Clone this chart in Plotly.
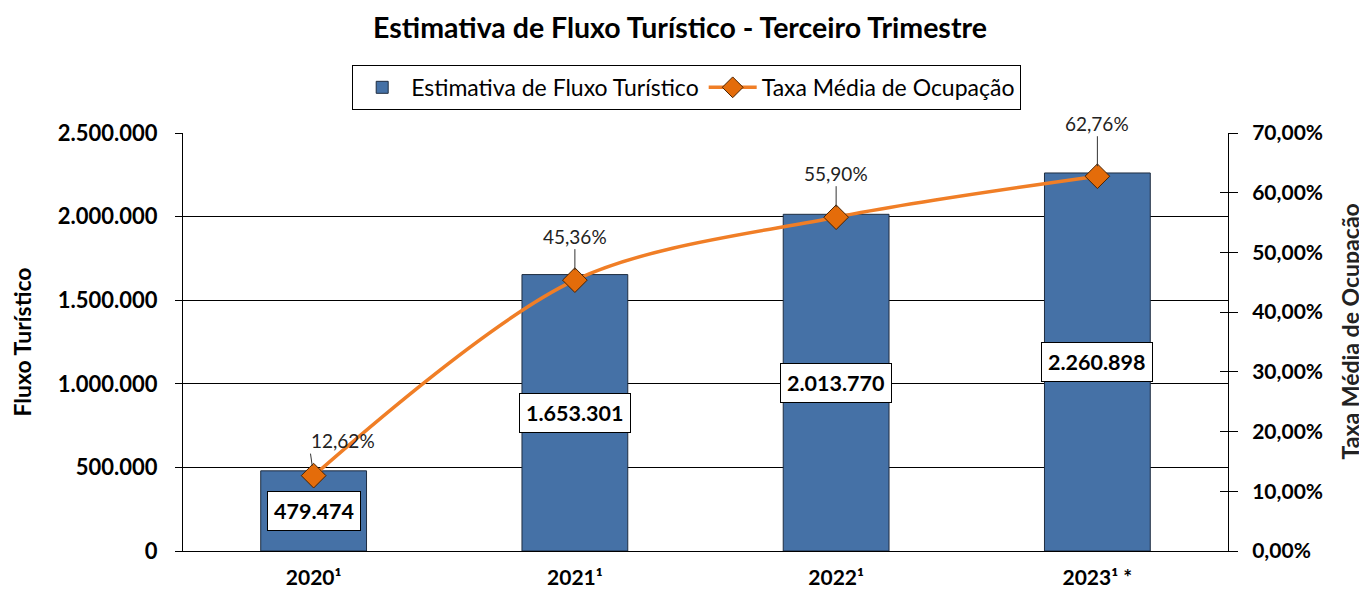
import plotly.graph_objects as go

anos = ['2020¹', '2021¹', '2022¹', '2023¹ *']
fluxo = [479474, 1653301, 2013770, 2260898]
taxa = [12.62, 45.36, 55.90, 62.76]

fluxo_ticks = [0, 500000, 1000000, 1500000, 2000000, 2500000]
fluxo_ticktext = ['0', '500.000', '1.000.000', '1.500.000', '2.000.000', '2.500.000']
taxa_ticks = [0, 10, 20, 30, 40, 50, 60, 70]
taxa_ticktext = ['0,00%', '10,00%', '20,00%', '30,00%', '40,00%', '50,00%', '60,00%', '70,00%']

FONT = 'Lato'

def br(n):
    return f'{n:,}'.replace(',', '.')

def pct(v):
    return f'{v:.2f}%'.replace('.', ',')

fig = go.Figure()

fig.add_trace(go.Bar(
    x=anos, y=fluxo, name='Estimativa de Fluxo Turístico',
    marker=dict(color='#4571A6', line=dict(color='#1f2d40', width=1)),
    width=0.405
))

fig.add_trace(go.Scatter(
    x=anos, y=taxa, name='Taxa Média de Ocupação', yaxis='y2',
    mode='lines+markers',
    line=dict(color='#F07E26', width=3.5, shape='spline', smoothing=0.9),
    marker=dict(symbol='diamond', size=19, color='#E46C0A', line=dict(color='#4a2200', width=1))
))

# invisible helper trace so the right axis can carry inner tick marks too
fig.add_trace(go.Scatter(x=anos, y=taxa, yaxis='y3', mode='none',
                         showlegend=False, hoverinfo='skip'))

# value boxes in the middle of the bars
for a, v in zip(anos, fluxo):
    fig.add_annotation(
        x=a, y=v / 2, yref='y', text=br(v), showarrow=False,
        font=dict(family=FONT, size=21.5, color='black', weight='bold'),
        bgcolor='white', bordercolor='black', borderwidth=1, borderpad=6
    )

# percentage labels with leader lines
offsets = [(-5, -35, 'left'), (0, -44, 'center'), (0, -44, 'center'), (0, -53, 'center')]
for a, t, (ax, ay, anc) in zip(anos, taxa, offsets):
    fig.add_annotation(
        x=a, y=t, yref='y2', text=pct(t), showarrow=True, xanchor=anc,
        arrowhead=0, arrowwidth=1, arrowcolor='#333333', ax=ax, ay=ay, standoff=10,
        font=dict(family=FONT, size=19, color='#222222')
    )

# right axis title (sits slightly above the plot centre in the original)
fig.add_annotation(
    x=1.117, y=0.526, xref='paper', yref='paper', text='Taxa Média de Ocupação',
    textangle=-90, showarrow=False, xanchor='center', yanchor='middle',
    font=dict(family=FONT, size=23, color='#222222', weight='bold')
)

fig.update_layout(
    width=1359, height=586,
    margin=dict(l=175, r=139, t=125, b=43),
    plot_bgcolor='white', paper_bgcolor='white',
    font=dict(family=FONT, color='black'),
    title=dict(text='Estimativa de Fluxo Turístico - Terceiro Trimestre',
               x=0.4945, xanchor='center', y=0.966, yanchor='middle',
               font=dict(family=FONT, size=28.5, color='black', weight='bold')),
    legend=dict(orientation='h', x=0.482, xanchor='center', y=1.163, yanchor='top',
                bordercolor='black', borderwidth=1, bgcolor='white',
                font=dict(family=FONT, size=23, color='black'),
                itemwidth=48),
    showlegend=True,
    xaxis=dict(showline=True, linecolor='black', linewidth=1, ticks='',
               ticklabelstandoff=8, automargin=False,
               tickfont=dict(family=FONT, size=21, color='black', weight='bold')),
    yaxis=dict(range=[0, 2500000], tickvals=fluxo_ticks, ticktext=fluxo_ticktext,
               showgrid=True, gridcolor='black', gridwidth=1, zeroline=False,
               showline=True, linecolor='black', linewidth=1, automargin=False,
               ticks='outside', ticklen=7, tickcolor='black', ticklabelstandoff=13,
               tickfont=dict(family=FONT, size=22, color='black', weight='bold'),
               title=dict(text='Fluxo Turístico', standoff=27,
                          font=dict(family=FONT, size=23, color='black', weight='bold'))),
    yaxis2=dict(range=[0, 70], tickvals=taxa_ticks, ticktext=taxa_ticktext,
                overlaying='y', side='right', showgrid=False, zeroline=False,
                showline=True, linecolor='black', linewidth=1, automargin=False,
                ticks='outside', ticklen=9, tickcolor='black', ticklabelstandoff=10,
                tickfont=dict(family=FONT, size=21, color='black', weight='bold')),
    yaxis3=dict(range=[0, 70], tickvals=taxa_ticks, overlaying='y', side='right',
                showgrid=False, zeroline=False, showline=False, showticklabels=False,
                ticks='inside', ticklen=8, tickcolor='black')
)

fig.write_html('out.html')
